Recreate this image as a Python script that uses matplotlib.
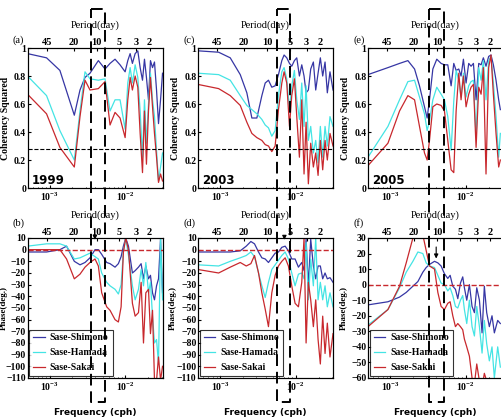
import numpy as np
import matplotlib
matplotlib.use("Agg")
import matplotlib.pyplot as plt
from matplotlib.lines import Line2D
from matplotlib.ticker import NullLocator
from matplotlib.transforms import blended_transform_factory

plt.rcParams['font.family'] = 'serif'
plt.rcParams['font.serif'] = ['Liberation Serif', 'DejaVu Serif']
plt.rcParams['mathtext.fontset'] = 'stix'
plt.rcParams['xtick.direction'] = 'in'
plt.rcParams['ytick.direction'] = 'in'

# ---- data (log10 of frequency in cph, coherence, phase in degrees) ----
logf_1999_coh = [-3.290, -3.039, -2.863, -2.673, -2.598, -2.532, -2.466, -2.356, -2.268, -2.202,
                 -2.136, -2.070, -2.003, -1.968, -1.937, -1.907, -1.871, -1.836, -1.805, -1.774,
                 -1.748, -1.722, -1.695, -1.669, -1.642, -1.616, -1.589, -1.563, -1.536, -1.510]
coh_1999_shimono = [0.96, 0.93, 0.84, 0.52, 0.70, 0.79, 0.82, 0.91, 0.85, 0.89, 0.92, 0.88, 0.83, 0.91, 0.96,
                    0.89, 0.96, 0.98, 0.86, 0.77, 0.92, 0.79, 0.63, 0.91, 0.86, 0.90, 0.70, 0.46, 0.63, 0.82]
coh_1999_hamada = [0.80, 0.66, 0.41, 0.20, 0.55, 0.83, 0.78, 0.77, 0.78, 0.55, 0.63, 0.63, 0.42, 0.75, 0.86,
                   0.75, 0.88, 0.79, 0.55, 0.22, 0.63, 0.32, 0.60, 0.82, 0.63, 0.51, 0.27, 0.05, 0.15, 0.25]
coh_1999_sakai = [0.67, 0.53, 0.29, 0.15, 0.51, 0.77, 0.70, 0.71, 0.76, 0.45, 0.54, 0.50, 0.36, 0.63, 0.79,
                  0.70, 0.80, 0.72, 0.39, 0.11, 0.55, 0.17, 0.55, 0.79, 0.58, 0.39, 0.22, 0.04, 0.10, 0.05]

logf_1999_ph = [-3.290, -3.039, -2.863, -2.775, -2.673, -2.598, -2.532, -2.466, -2.400, -2.356, -2.312,
                -2.246, -2.202, -2.136, -2.092, -2.056, -2.026, -1.995, -1.959, -1.907, -1.871, -1.827,
                -1.792, -1.761, -1.730, -1.695, -1.669, -1.642, -1.616, -1.589, -1.563, -1.536, -1.510]
ph_1999_shimono = [-2, -2, 0, 3, -10, -13, -11, -7, 0, 0, -4, -11, -12, -15, -12, -6, 3, 10, 3, -20, -18,
                   -15, -12, -25, -14, -25, -22, -37, -43, -31, -25, 9, -37]
ph_1999_hamada = [3, 5, 5, 3, -8, -7, -5, -3, -6, -8, -20, -28, -31, -34, -38, -30, -2, 10, -5, -31, -43,
                  -34, -17, -31, -11, -37, -28, -57, -80, -77, -98, 10, -43]
ph_1999_sakai = [0, 0, 0, -8, -25, -21, -15, -11, -8, -14, -37, -49, -52, -60, -62, -49, -2, 10, 0, -46, -57,
                 -54, -28, -80, -37, -34, -72, -52, -112, -112, -92, -112, -100]

logf_2003_coh = [-3.290, -3.018, -2.865, -2.733, -2.646, -2.580, -2.514, -2.448, -2.404, -2.361, -2.317,
                 -2.273, -2.229, -2.185, -2.155, -2.120, -2.084, -2.054, -2.019, -1.988, -1.953, -1.922,
                 -1.892, -1.865, -1.835, -1.804, -1.769, -1.738, -1.707, -1.677, -1.646, -1.615, -1.585,
                 -1.550, -1.510]
coh_2003_shimono = [0.98, 0.97, 0.93, 0.81, 0.68, 0.50, 0.50, 0.66, 0.75, 0.77, 0.72, 0.73, 0.81, 0.91, 0.95,
                    0.93, 0.89, 0.87, 0.91, 0.93, 0.80, 0.88, 0.80, 0.68, 0.70, 0.85, 0.90, 0.70, 0.82, 0.93,
                    0.80, 0.90, 0.68, 0.83, 0.70]
coh_2003_hamada = [0.82, 0.81, 0.77, 0.66, 0.59, 0.56, 0.53, 0.49, 0.45, 0.43, 0.37, 0.41, 0.66, 0.83, 0.86,
                   0.78, 0.56, 0.73, 0.84, 0.63, 0.49, 0.75, 0.44, 0.73, 0.34, 0.44, 0.25, 0.34, 0.18, 0.44,
                   0.22, 0.44, 0.30, 0.51, 0.44]
coh_2003_sakai = [0.74, 0.71, 0.66, 0.59, 0.47, 0.39, 0.36, 0.34, 0.31, 0.30, 0.26, 0.30, 0.56, 0.75, 0.83,
                  0.75, 0.44, 0.66, 0.78, 0.51, 0.22, 0.63, 0.10, 0.47, 0.03, 0.32, 0.15, 0.25, 0.09, 0.34,
                  0.13, 0.34, 0.20, 0.39, 0.30]

logf_2003_ph = [-3.290, -3.018, -2.865, -2.733, -2.654, -2.593, -2.545, -2.492, -2.448, -2.404, -2.361,
                -2.317, -2.273, -2.229, -2.185, -2.141, -2.098, -2.054, -2.010, -1.966, -1.922, -1.892,
                -1.865, -1.835, -1.804, -1.769, -1.738, -1.707, -1.677, -1.646, -1.615, -1.585, -1.550, -1.510]
ph_2003_shimono = [-2, -2, -2, -1, 3, 7, 5, -2, -7, -8, -11, -7, -3, -2, 2, 3, -1, -8, -8, -15, -11, -18,
                   9, -31, 9, -14, -25, -14, -14, -25, -20, -25, -24, -28]
ph_2003_hamada = [-13, -14, -10, -7, -5, -2, -6, -20, -31, -41, -28, -17, -13, -9, -5, -2, -8, -20, -31, -21,
                  -20, -25, 6, -43, -8, -31, 10, -43, -28, -43, -31, -49, -37, -49]
ph_2003_sakai = [-17, -20, -15, -11, -14, -12, -5, -20, -37, -51, -66, -37, -22, -14, -10, -7, -14, -31, -46,
                 -49, -28, 10, -80, -28, -43, -66, -43, -77, -98, -57, -89, -63, -92, -72]

logf_2005_coh = [-3.290, -3.027, -2.874, -2.764, -2.676, -2.611, -2.545, -2.510, -2.479, -2.435, -2.383,
                 -2.326, -2.282, -2.238, -2.194, -2.159, -2.128, -2.093, -2.063, -2.032, -1.997, -1.962,
                 -1.931, -1.900, -1.865, -1.830, -1.799, -1.769, -1.734, -1.699, -1.668, -1.637, -1.602,
                 -1.567, -1.545]
coh_2005_shimono = [0.81, 0.86, 0.89, 0.91, 0.85, 0.73, 0.58, 0.50, 0.63, 0.85, 0.92, 0.89, 0.88, 0.88, 0.73,
                    0.89, 0.84, 0.85, 0.80, 0.92, 0.75, 0.89, 0.87, 0.89, 0.63, 0.89, 0.88, 0.93, 0.87, 0.94,
                    0.95, 0.88, 0.77, 0.63, 0.56]
coh_2005_hamada = [0.22, 0.44, 0.63, 0.76, 0.77, 0.65, 0.53, 0.41, 0.48, 0.63, 0.72, 0.67, 0.63, 0.51, 0.27,
                   0.62, 0.84, 0.77, 0.65, 0.82, 0.65, 0.73, 0.76, 0.77, 0.36, 0.86, 0.77, 0.91, 0.63, 0.91,
                   0.94, 0.75, 0.51, 0.22, 0.39]
coh_2005_sakai = [0.16, 0.32, 0.55, 0.66, 0.63, 0.44, 0.25, 0.20, 0.34, 0.58, 0.60, 0.59, 0.55, 0.34, 0.13,
                  0.11, 0.55, 0.82, 0.63, 0.80, 0.58, 0.67, 0.72, 0.74, 0.29, 0.72, 0.67, 0.86, 0.10, 0.86,
                  0.95, 0.67, 0.39, 0.15, 0.20]

logf_2005_ph = [-3.290, -3.027, -2.874, -2.786, -2.698, -2.632, -2.567, -2.523, -2.479, -2.413, -2.369,
                -2.326, -2.282, -2.238, -2.207, -2.172, -2.137, -2.106, -2.071, -2.041, -2.019, -1.988,
                -1.953, -1.918, -1.887, -1.856, -1.821, -1.786, -1.756, -1.725, -1.690, -1.655, -1.624,
                -1.580, -1.545]
ph_2005_shimono = [-13, -11, -8, -5, -1, 2, 8, 11, 13, 15, 14, 12, 7, 4, 6, -1, -3, -9, 1, 5, -2, -10, 0,
                   -14, -18, -2, -10, -31, -1, -18, -27, -20, -31, -23, -25]
ph_2005_hamada = [-26, -16, -2, 8, 15, 21, 20, 14, 12, 11, 6, 1, 0, -4, -2, -7, -14, -15, -10, -7, -16, -25,
                  -10, -27, -33, -14, -27, -44, -23, -38, -49, -40, -60, -40, -53]
ph_2005_sakai = [-27, -16, -1, 14, 30, 38, 32, 22, 12, 10, -5, -14, -16, -12, -11, -20, -27, -25, -27, -29,
                 -35, -40, -46, -60, -64, -51, -62, -66, -57, -62, -66, -62, -66, -62, -64]

pair_names = ['Sase-Shimono', 'Sase-Hamada', 'Sase-Sakai']
colors = ['#3636a4', '#44e4e4', '#c8282d']
period_ticks = [45, 20, 10, 5, 3, 2]
box_periods = [(12.0, 7.8), (7.4, 5.0), (12.8, 8.0)]   # dashed bands, days
arrow_periods = [10.5, 5.9, 10.25]

xlim = (10 ** -3.29, 10 ** -1.51)

fig = plt.figure(figsize=(5.01, 4.19), dpi=100)
col_left = [0.0549, 0.3952, 0.7345]
row_bottom = [0.5513, 0.0979]
w, h = 0.2695, 0.3341


def bold_ticks(ax):
    for t in ax.get_xticklabels() + ax.get_yticklabels():
        t.set_fontweight('bold')


def period_axis(ax):
    top = ax.twiny()
    top.set_xscale('log')
    top.set_xlim(xlim)
    top.set_xticks([1 / (24.0 * p) for p in period_ticks])
    top.set_xticklabels([str(p) for p in period_ticks])
    top.xaxis.set_minor_locator(NullLocator())
    top.tick_params(labelsize=7.5, pad=1, length=2)
    bold_ticks(top)
    top.set_xlabel('Period(day)', fontsize=7.5, labelpad=7)


def common(ax, letter, ypos):
    ax.set_xscale('log')
    ax.set_xlim(xlim)
    ax.tick_params(labelsize=7, pad=2, length=2)
    ax.tick_params(axis='y', pad=1)
    ax.tick_params(which='minor', length=1)
    ax.text(-0.11, ypos, letter, transform=ax.transAxes, fontsize=7.5)
    period_axis(ax)


def coh_panel(ax, logf, vals, year, letter):
    f = 10.0 ** np.array(logf)
    for v, c in zip(vals, colors):
        ax.plot(f, v, color=c, lw=0.9)
    ax.axhline(0.28, color='k', ls='--', lw=0.8)
    ax.set_ylim(0, 1)
    ax.set_yticks([0, 0.2, 0.4, 0.6, 0.8, 1])
    ax.set_yticklabels(['0', '0.2', '0.4', '0.6', '0.8', '1'])
    ax.set_ylabel('Coherency Squared', fontweight='bold', fontsize=7, labelpad=3)
    ax.text(0.03, 0.03, year, transform=ax.transAxes, family='DejaVu Sans',
            fontweight='bold', fontsize=8.5)
    common(ax, letter, 1.04)
    bold_ticks(ax)


def phase_panel(ax, logf, vals, letter, ylim, arrow_p, arrow_y, ylab_x):
    f = 10.0 ** np.array(logf)
    for v, c, n in zip(vals, colors, pair_names):
        ax.plot(f, v, color=c, lw=0.9, label=n)
    ax.axhline(0, color='#c8282d', ls='--', lw=1.0)
    ax.set_ylim(ylim)
    ax.set_yticks(np.arange(ylim[0], ylim[1] + 1, 10))
    ax.set_ylabel('Phase(deg.)', fontweight='bold', fontsize=6.5)
    ax.yaxis.set_label_coords(ylab_x, 0.5)
    ax.set_xlabel('Frequency (cph)', family='DejaVu Sans', fontweight='bold', fontsize=6.5, labelpad=11)
    leg = ax.legend(loc='lower left', frameon=True, fancybox=False, handlelength=1.2, handletextpad=0.5,
                    labelspacing=0.6, borderpad=0.4, borderaxespad=0.2, prop={'weight': 'bold', 'size': 7})
    leg.get_frame().set_edgecolor('k')
    leg.get_frame().set_linewidth(0.8)
    ax.annotate('', xy=(1 / (24.0 * arrow_p), arrow_y[1]), xytext=(1 / (24.0 * arrow_p), arrow_y[0]),
                arrowprops=dict(arrowstyle='-|>', color='k', lw=0.8, mutation_scale=6),
                annotation_clip=False)
    common(ax, letter, 1.09)
    bold_ticks(ax)


axes_top = [fig.add_axes([col_left[i], row_bottom[0], w, h]) for i in range(3)]
axes_bot = [fig.add_axes([col_left[i], row_bottom[1], w, h]) for i in range(3)]

coh_panel(axes_top[0], logf_1999_coh, [coh_1999_shimono, coh_1999_hamada, coh_1999_sakai], '1999', '(a)')
coh_panel(axes_top[1], logf_2003_coh, [coh_2003_shimono, coh_2003_hamada, coh_2003_sakai], '2003', '(c)')
coh_panel(axes_top[2], logf_2005_coh, [coh_2005_shimono, coh_2005_hamada, coh_2005_sakai], '2005', '(e)')

phase_panel(axes_bot[0], logf_1999_ph, [ph_1999_shimono, ph_1999_hamada, ph_1999_sakai], '(b)',
            (-110, 10), arrow_periods[0], (13, 6), -0.148)
phase_panel(axes_bot[1], logf_2003_ph, [ph_2003_shimono, ph_2003_hamada, ph_2003_sakai], '(d)',
            (-110, 10), arrow_periods[1], (14, 6), -0.16)
phase_panel(axes_bot[2], logf_2005_ph, [ph_2005_shimono, ph_2005_hamada, ph_2005_sakai], '(f)',
            (-60, 30), arrow_periods[2], (26, 15), -0.15)

# dashed bands spanning both rows
for ax, (p_long, p_short) in zip(axes_top, box_periods):
    trans = blended_transform_factory(ax.transData, fig.transFigure)
    f1, f2 = 1 / (24.0 * p_long), 1 / (24.0 * p_short)
    top, bot = 0.978, 0.041
    fig.add_artist(Line2D([f1, f2, f2, f1, f1], [top, top, bot, bot, top], transform=trans,
                          color='k', lw=1.4, ls=(0, (6, 3))))

fig.savefig('out.png', dpi=100)
